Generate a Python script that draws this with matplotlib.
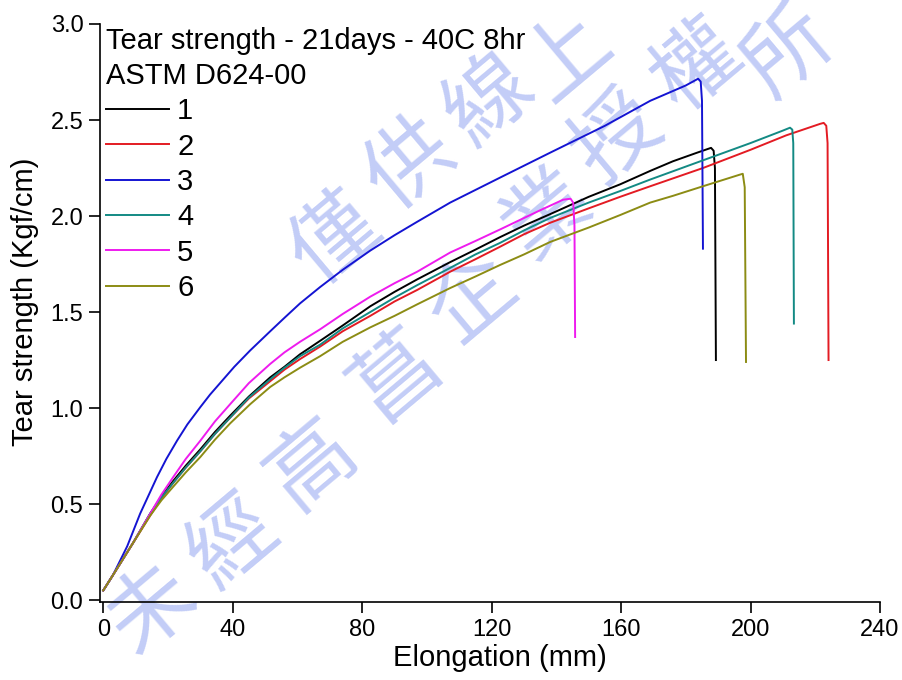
import matplotlib
matplotlib.use("Agg")
import matplotlib.pyplot as plt

plt.rcParams['font.family'] = ['Liberation Sans', 'DejaVu Sans']

# tear tests, elongation (mm) vs tear strength (kgf/cm)
x1 = [0, 3, 9.3, 14.5, 18, 21.6, 25.5, 30, 34.5, 39.2, 45, 51.6, 56, 60.8, 67, 74, 82.5, 90, 97, 107.2,
      115, 122.6, 130, 138.1, 150, 159.7, 169, 176, 183.5, 187.8, 188.6, 189.0, 189.3]
y1 = [0.05, 0.13, 0.30, 0.45, 0.54, 0.62, 0.70, 0.785, 0.875, 0.96, 1.06, 1.16, 1.215, 1.28, 1.35, 1.43, 1.53, 1.605, 1.67, 1.76,
      1.825, 1.89, 1.95, 2.01, 2.10, 2.165, 2.235, 2.285, 2.33, 2.355, 2.34, 2.25, 1.25]

x2 = [0, 3, 9.3, 14.5, 18, 21.6, 25.5, 30, 34.5, 39.2, 45, 51.6, 56, 60.8, 67, 74, 82.5, 90, 97, 107.2,
      115, 122.6, 130, 138.1, 150, 159.7, 169, 185.3, 200, 211, 221.5, 222.6, 223.4, 223.8, 224.1]
y2 = [0.05, 0.13, 0.30, 0.44, 0.53, 0.61, 0.69, 0.775, 0.865, 0.95, 1.05, 1.14, 1.20, 1.255, 1.32, 1.40, 1.48, 1.555, 1.615, 1.71,
      1.775, 1.84, 1.905, 1.965, 2.04, 2.10, 2.155, 2.25, 2.345, 2.42, 2.48, 2.485, 2.47, 2.38, 1.25]

x3 = [0, 3, 7.4, 11.4, 16.6, 19.5, 22.8, 26, 30, 33, 36.1, 40.5, 45.4, 51.6, 56, 60.8, 67, 74, 82.5, 90, 97,
      107.2, 122.6, 138.1, 155, 169, 180, 183.8, 184.6, 185.0, 185.3]
y3 = [0.05, 0.13, 0.28, 0.45, 0.64, 0.735, 0.83, 0.915, 1.005, 1.07, 1.13, 1.215, 1.30, 1.40, 1.47, 1.545, 1.63, 1.72, 1.82, 1.90, 1.97,
      2.07, 2.20, 2.33, 2.47, 2.60, 2.68, 2.715, 2.70, 2.60, 1.83]

x4 = [0, 3, 9.3, 14.5, 18, 21.6, 25.5, 30, 34.5, 39.2, 45, 51.6, 56, 60.8, 67, 74, 82.5, 90, 97, 107.2,
      115, 122.6, 130, 138.1, 150, 159.7, 169, 185.3, 200, 210, 212.2, 212.9, 213.2, 213.4]
y4 = [0.05, 0.13, 0.30, 0.45, 0.535, 0.61, 0.69, 0.775, 0.865, 0.95, 1.055, 1.15, 1.21, 1.27, 1.33, 1.415, 1.50, 1.575, 1.64, 1.73,
      1.80, 1.86, 1.925, 1.99, 2.07, 2.13, 2.19, 2.29, 2.38, 2.445, 2.46, 2.45, 2.38, 1.44]

x5 = [0, 3, 9.3, 14.5, 18, 21.6, 25.5, 30, 34.5, 39.2, 45, 51.6, 56, 60.8, 67, 74, 82.5, 90, 97, 107.2,
      115, 122.6, 135, 142.1, 144.4, 145.2, 145.6, 145.8]
y5 = [0.05, 0.13, 0.30, 0.45, 0.55, 0.64, 0.735, 0.83, 0.93, 1.02, 1.13, 1.23, 1.29, 1.345, 1.41, 1.49, 1.58, 1.65, 1.71, 1.81,
      1.87, 1.93, 2.03, 2.085, 2.09, 2.07, 1.95, 1.37]

x6 = [0, 3, 9.3, 14.5, 18, 21.6, 25.5, 30, 34.5, 39.2, 45.4, 51.6, 56, 60.8, 67, 74, 82.5, 90, 97, 107.2,
      115, 122.6, 130, 138.1, 150, 159.7, 169, 176, 185.3, 196.6, 197.6, 198.2, 198.6]
y6 = [0.05, 0.13, 0.30, 0.44, 0.52, 0.59, 0.665, 0.745, 0.835, 0.92, 1.02, 1.11, 1.16, 1.21, 1.27, 1.345, 1.42, 1.48, 1.54, 1.625,
      1.685, 1.745, 1.80, 1.865, 1.94, 2.005, 2.07, 2.105, 2.155, 2.215, 2.22, 2.15, 1.24]

labels = ['1', '2', '3', '4', '5', '6']
colors = ['#000000', '#e31b23', '#1414d2', '#138a84', '#ee1bee', '#8c8c14']
xticks = [0, 40, 80, 120, 160, 200, 240]
yticks = [0.0, 0.5, 1.0, 1.5, 2.0, 2.5, 3.0]

fig = plt.figure(figsize=(9.02, 6.8), dpi=100)
ax = fig.add_axes([100/902, 1 - 602/680, 780/902, 578/680])
ax.set_facecolor('none')

# faint diagonal watermark behind the curves
wm = [('僅', 335, 240), ('供', 410, 165), ('線', 490, 100), ('上', 567, 56),
      ('未', 152, 610), ('經', 233, 543), ('高', 313, 465), ('菖', 397, 377),
      ('企', 473, 300), ('業', 548, 215), ('授', 617, 138), ('權', 697, 67),
      ('所', 788, 52)]
for ch, px, py in wm:
    fig.text(px/902, 1 - py/680, ch, fontsize=62, color='#c3cdf7', rotation=40,
             ha='center', va='center', family=['Noto Sans CJK TC'], zorder=-5)

for xs, ys, c, lab in zip([x1, x2, x3, x4, x5, x6], [y1, y2, y3, y4, y5, y6], colors, labels):
    ax.plot(xs, ys, color=c, lw=1.4, label=lab)

ax.set_xlim(-1, 240)
ax.set_ylim(-0.01, 3.0)
ax.set_xticks(xticks)
ax.set_yticks(yticks)
ax.set_yticklabels(['%.1f' % v for v in yticks])
ax.tick_params(direction='out', length=8, width=1.2, labelsize=17, pad=4)
for s in ['top', 'right']:
    ax.spines[s].set_visible(False)
for s in ['left', 'bottom']:
    ax.spines[s].set_linewidth(1.2)

ax.set_xlabel('Elongation (mm)', fontsize=21)
ax.xaxis.set_label_coords(0.513, -0.097)
ax.xaxis.label.set_va('center')
ax.set_ylabel('Tear strength (Kgf/cm)', fontsize=21)
ax.yaxis.set_label_coords(-0.078, 0.52)

leg = ax.legend(title='Tear strength - 21days - 40C 8hr\nASTM D624-00', title_fontsize=21,
                fontsize=21, alignment='left', frameon=False, loc='upper left',
                bbox_to_anchor=(0.008, 0.994), borderpad=0, borderaxespad=0,
                handlelength=2.15, handletextpad=0.28, labelspacing=0.25)
leg.get_title().set_linespacing(1.3)

fig.savefig('out.png', dpi=100)
